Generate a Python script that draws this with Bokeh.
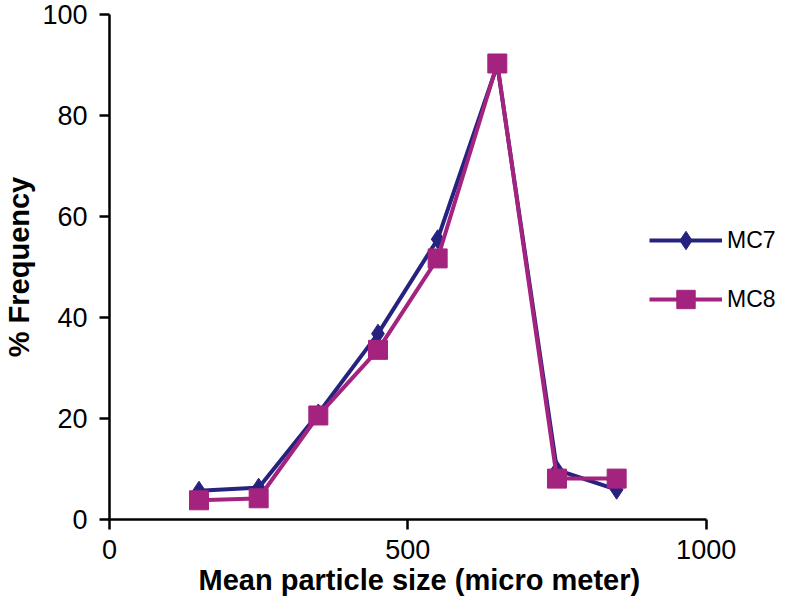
from bokeh.plotting import figure
from bokeh.models import Range1d, FixedTicker, Legend, LegendItem
from bokeh.embed import file_html
from bokeh.resources import INLINE

sizes = [150, 250, 350, 450, 550, 650, 750, 850]
mc7 = [5.7, 6.3, 21.0, 36.8, 55.5, 90.0, 9.8, 5.9]
mc8 = [3.8, 4.2, 20.6, 33.6, 51.7, 90.3, 8.1, 8.1]
x_ticks = [0, 500, 1000]
y_ticks = [0, 20, 40, 60, 80, 100]

C7 = "#25237f"
C8 = "#a3237f"

p = figure(width=777, height=599, output_backend="svg", toolbar_location=None,
           x_range=Range1d(0, 1119.6), y_range=Range1d(0, 100),
           min_border_left=103, min_border_right=0, min_border_top=14, min_border_bottom=80)
p.outline_line_color = None
p.xgrid.visible = False
p.ygrid.visible = False
p.background_fill_color = "white"

font = "Liberation Sans"
for ax in (p.xaxis[0], p.yaxis[0]):
    ax.axis_line_width = 2.5
    ax.axis_line_color = "black"
    ax.major_tick_line_width = 2.5
    ax.major_tick_line_color = "black"
    ax.major_tick_out = 10
    ax.major_tick_in = 0
    ax.minor_tick_line_color = None
    ax.major_label_text_font = font
    ax.major_label_text_font_size = "27px"
    ax.major_label_text_color = "black"
    ax.axis_label_text_font = font
    ax.axis_label_text_font_style = "bold"
    ax.axis_label_text_font_size = "29px"
    ax.axis_label_text_color = "black"

p.xaxis.bounds = (0, 1000)
p.xaxis.ticker = FixedTicker(ticks=x_ticks)
p.yaxis.ticker = FixedTicker(ticks=y_ticks)
# trailing no-break spaces keep the label centred under the 0-1000 axis
p.xaxis.axis_label = "Mean particle size (micro meter)" + "\u00a0" * 6
p.yaxis.axis_label = "% Frequency"
p.xaxis.major_label_standoff = 10
p.xaxis.axis_label_standoff = 2
p.yaxis.major_label_standoff = 12
p.yaxis.axis_label_standoff = 4

l7 = p.line(sizes, mc7, line_color=C7, line_width=4)
s7 = p.scatter(sizes, mc7, marker="diamond", size=19, fill_color=C7, line_color=C7)
l8 = p.line(sizes, mc8, line_color=C8, line_width=4)
s8 = p.scatter(sizes, mc8, marker="square", size=19, fill_color=C8, line_color=C8)

legend = Legend(items=[LegendItem(label="MC7", renderers=[l7, s7]),
                       LegendItem(label="MC8", renderers=[l8, s8])],
                location=(540, 197), orientation="vertical")
legend.glyph_width = 73
legend.glyph_height = 46
legend.label_height = 46
legend.label_standoff = 5
legend.spacing = 13
legend.padding = 0
legend.margin = 0
legend.border_line_color = None
legend.background_fill_alpha = 0
legend.label_text_font = font
legend.label_text_font_size = "23px"
legend.label_text_color = "black"
p.add_layout(legend, "center")

open("out.html", "w").write(file_html(p, INLINE))
